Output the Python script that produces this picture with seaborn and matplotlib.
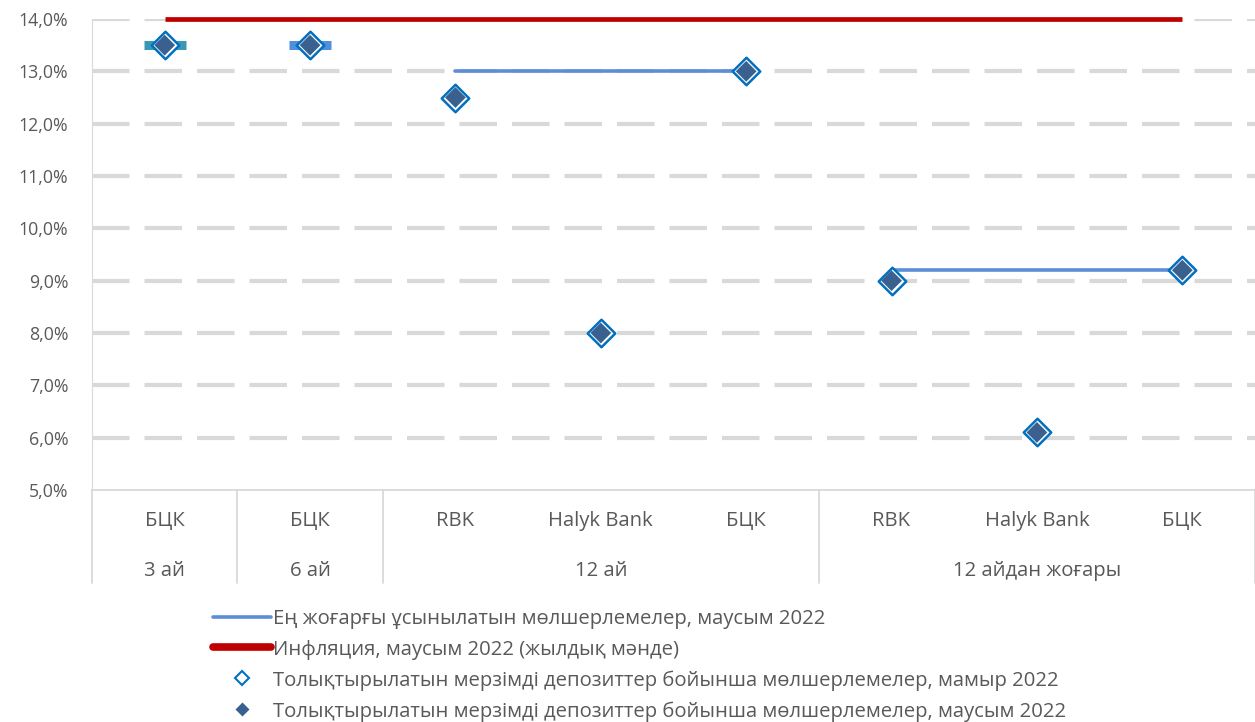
import numpy as np
import pandas as pd
import seaborn as sns
import matplotlib.pyplot as plt
from matplotlib.lines import Line2D
from matplotlib.ticker import FuncFormatter

banks = ['БЦК', 'БЦК', 'RBK', 'Halyk Bank', 'БЦК', 'RBK', 'Halyk Bank', 'БЦК']
terms = ['3 ай', '6 ай', '12 ай', '12 ай', '12 ай',
         '12 айдан жоғары', '12 айдан жоғары', '12 айдан жоғары']
may_rates = [13.5, 13.5, 12.5, 8.0, 13.0, 9.0, 6.1, 9.2]
june_rates = [13.5, 13.5, 12.5, 8.0, 13.0, 9.0, 6.1, 9.2]
max_rates = [13.5, 13.5, 13.0, np.nan, 13.0, 9.2, np.nan, 9.2]
inflation = [14.0, 14.0, 14.0, 14.0, 14.0, 14.0, 14.0, 14.0]
yticks = [5, 6, 7, 8, 9, 10, 11, 12, 13, 14]

labels = ['Ең жоғарғы ұсынылатын мөлшерлемелер, маусым 2022',
          'Инфляция, маусым 2022 (жылдық мәнде)',
          'Толықтырылатын мерзімді депозиттер бойынша мөлшерлемелер, мамыр 2022',
          'Толықтырылатын мерзімді депозиттер бойынша мөлшерлемелер, маусым 2022']

df = pd.DataFrame({'pos': np.arange(len(banks)), 'bank': banks, 'term': terms,
                   'may': may_rates, 'june': june_rates, 'max': max_rates,
                   'infl': inflation})

sns.set_style('white')
plt.rcParams['font.family'] = ['Open Sans', 'DejaVu Sans']
TXT = '#595959'
GRID = '#D9D9D9'
BLUE = '#5B8ED6'
RED = '#C00000'
MAY_EDGE = '#0070C0'
JUNE = '#3A6090'
FS = 14.6

fig = plt.figure(figsize=(12.55, 7.22), dpi=100)
ax = fig.add_axes([92 / 1255, 1 - 490 / 722, 1 - 92 / 1255, (490 - 19) / 722])

# inflation line
sns.lineplot(data=df, x='pos', y='infl', color=RED, lw=3.4, ax=ax, zorder=3,
             solid_capstyle='butt', clip_on=False)

# maximum offered rates: connected within each term group
multi = df[df.groupby('term')['max'].transform('count') > 1]
sns.lineplot(data=multi, x='pos', y='max', units='term', estimator=None,
             color=BLUE, lw=2.6, ax=ax, zorder=3)
single = df[df.groupby('term')['max'].transform('count') == 1]
sns.scatterplot(data=single, x='pos', y='max', hue='term',
                palette=['#3C97B5', '#4F8FDB'], marker='_', s=900,
                linewidth=6.5, legend=False, ax=ax, zorder=3)

# deposit rates
sns.scatterplot(data=df, x='pos', y='may', marker='D', s=196, color='white',
                edgecolor=MAY_EDGE, linewidth=1.8, ax=ax, zorder=4)
sns.scatterplot(data=df, x='pos', y='june', marker='D', s=112, color=JUNE,
                edgecolor='none', ax=ax, zorder=5)

ax.set_xlim(-0.5, len(banks) - 0.5)
ax.set_ylim(5, 14)
ax.set_yticks(yticks)
ax.yaxis.set_major_formatter(FuncFormatter(lambda v, p: f'{v:.1f}%'.replace('.', ',')))
ax.set_xticks(df['pos'])
ax.set_xticklabels(banks)
ax.tick_params(axis='x', length=0, pad=15, labelsize=FS, labelcolor=TXT)
ax.tick_params(axis='y', length=0, pad=17, labelsize=12.8, labelcolor=TXT)
ax.set_xlabel('')
ax.set_ylabel('')

ax.yaxis.grid(True, color=GRID, lw=3, linestyle=(0, (9, 3.6)))
ax.set_axisbelow(True)
ax.get_ygridlines()[0].set_visible(False)
for side in ['top', 'right']:
    ax.spines[side].set_visible(False)
ax.spines['left'].set_color(GRID)
ax.spines['bottom'].set_color(GRID)
ax.spines['bottom'].set_linewidth(1.3)

# group labels and separators
trans = ax.get_xaxis_transform()
groups = df.groupby('term', sort=False)['pos']
bounds = [-0.5]
for term, p in groups:
    ax.text(p.mean(), -0.173, term, transform=trans, ha='center', va='center',
            fontsize=FS, color=TXT)
    bounds.append(p.max() + 0.5)
for b in bounds:
    ax.plot([b, b], [0, -0.198], transform=trans, color=GRID, lw=1.3,
            clip_on=False)

handles = [Line2D([], [], color=BLUE, lw=2.6),
           Line2D([], [], color=RED, lw=5.5, solid_capstyle='round'),
           Line2D([], [], ls='none', marker='D', ms=7.5, mfc='white',
                  mec=MAY_EDGE, mew=1.5),
           Line2D([], [], ls='none', marker='D', ms=7.5, mfc=JUNE, mec='none')]
fig.legend(handles, labels, loc='upper left', bbox_to_anchor=(213 / 1255, 1 - 609 / 722),
           frameon=False, fontsize=FS, labelcolor=TXT, handlelength=2.85,
           handletextpad=0.1, labelspacing=0.52, borderpad=0, borderaxespad=0)

fig.savefig('out.png', dpi=100)
